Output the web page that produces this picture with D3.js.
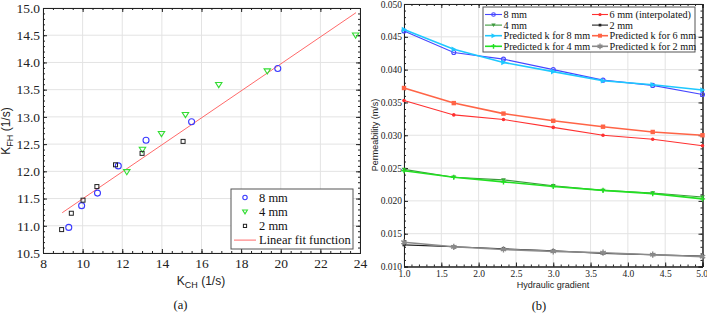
<!DOCTYPE html>
<html>
<head>
<meta charset="utf-8">
<script src="https://cdn.jsdelivr.net/npm/d3@7"></script>
<style>
  body { margin: 0; background: #fff; }
  svg { display: block; }
  .lab { font-family: "Liberation Sans", sans-serif; fill: #222; }
  .leg { font-family: "Liberation Serif", serif; fill: #111; }
</style>
</head>
<body>
<div id="chart"></div>
<script>
// ---- panel (a) data: K_CH vs K_FH ----
var kch8 = [9.3, 9.95, 10.75, 11.8, 13.2, 15.5, 19.85];
var kfh8 = [10.97, 11.37, 11.6, 12.1, 12.57, 12.91, 13.89];
var kch4 = [12.23, 13.02, 13.98, 15.19, 16.87, 19.32, 23.78];
var kfh4 = [11.99, 12.4, 12.69, 13.04, 13.59, 13.84, 14.5];
var kch2 = [8.94, 9.43, 10.02, 10.72, 11.66, 13.0, 15.07];
var kfh2 = [10.93, 11.23, 11.47, 11.72, 12.12, 12.33, 12.55];
var fitSlope = 0.2478, fitIntercept = 9.017, fitRange = [8.97, 23.8];
var xTicksA = [8, 10, 12, 14, 16, 18, 20, 22, 24];
var yTicksA = [10.5, 11.0, 11.5, 12.0, 12.5, 13.0, 13.5, 14.0, 14.5, 15.0];

// ---- panel (b) data: permeability vs hydraulic gradient ----
var gradient = [1, 1.667, 2.333, 3, 3.667, 4.333, 5];
var k8 = [0.0459, 0.0426, 0.0416, 0.0400, 0.0384, 0.0376, 0.0362];
var k4 = [0.0248, 0.0236, 0.0232, 0.0223, 0.0216, 0.0212, 0.0206];
var pred8 = [0.0461, 0.0431, 0.0411, 0.0397, 0.0383, 0.0377, 0.0369];
var pred4 = [0.0246, 0.0236, 0.0229, 0.0222, 0.0216, 0.0211, 0.0203];
var k6 = [0.0353, 0.0331, 0.0324, 0.0312, 0.0300, 0.0294, 0.0284];
var k2 = [0.0133, 0.0130, 0.0127, 0.0124, 0.0120, 0.0118, 0.0116];
var pred6 = [0.0372, 0.0349, 0.0333, 0.0322, 0.0313, 0.0305, 0.0300];
var pred2 = [0.0137, 0.0130, 0.0126, 0.0123, 0.0121, 0.0118, 0.0115];
var xTicksB = [1.0, 1.5, 2.0, 2.5, 3.0, 3.5, 4.0, 4.5, 5.0];
var yTicksB = [0.010, 0.015, 0.020, 0.025, 0.030, 0.035, 0.040, 0.045, 0.050];

var svg = d3.select("#chart").append("svg").attr("width", 707).attr("height", 313);

// draw a marker of a given kind at (cx, cy)
function marker(g, kind, cx, cy, color, s) {
  if (kind == "circle") {
    g.append("circle").attr("cx", cx).attr("cy", cy).attr("r", s)
      .attr("fill", "none").attr("stroke", color).attr("stroke-width", 1.1);
  } else if (kind == "dot") {
    g.append("circle").attr("cx", cx).attr("cy", cy).attr("r", s).attr("fill", color);
  } else if (kind == "tri") {
    g.append("path").attr("d", "M" + (cx - s) + "," + (cy - s * 0.7) + "L" + (cx + s) + "," + (cy - s * 0.7) + "L" + cx + "," + (cy + s * 0.9) + "Z")
      .attr("fill", "none").attr("stroke", color).attr("stroke-width", 1.1);
  } else if (kind == "trifill") {
    g.append("path").attr("d", "M" + (cx - s) + "," + (cy - s * 0.7) + "L" + (cx + s) + "," + (cy - s * 0.7) + "L" + cx + "," + (cy + s * 0.9) + "Z")
      .attr("fill", color);
  } else if (kind == "triright") {
    g.append("path").attr("d", "M" + (cx - s * 0.8) + "," + (cy - s) + "L" + (cx + s) + "," + cy + "L" + (cx - s * 0.8) + "," + (cy + s) + "Z")
      .attr("fill", color);
  } else if (kind == "square") {
    g.append("rect").attr("x", cx - s).attr("y", cy - s).attr("width", 2 * s).attr("height", 2 * s)
      .attr("fill", "none").attr("stroke", color).attr("stroke-width", 1);
  } else if (kind == "sqfill") {
    g.append("rect").attr("x", cx - s).attr("y", cy - s).attr("width", 2 * s).attr("height", 2 * s).attr("fill", color);
  } else if (kind == "plus") {
    g.append("path").attr("d", "M" + (cx - s) + "," + cy + "H" + (cx + s) + "M" + cx + "," + (cy - s) + "V" + (cy + s))
      .attr("stroke", color).attr("stroke-width", 1.4);
  } else if (kind == "star") {
    g.append("path").attr("d", d3.symbol(d3.symbolAsterisk, s * s * 4)())
      .attr("transform", "translate(" + cx + "," + cy + ")")
      .attr("stroke", color).attr("stroke-width", 1.4).attr("fill", "none");
    g.append("circle").attr("cx", cx).attr("cy", cy).attr("r", s * 0.6).attr("fill", color);
  }
}

function minors(a, b, step) {
  var out = [];
  for (var v = a; v <= b + 1e-9; v += step) out.push(+v.toFixed(6));
  return out;
}

// box with grid, inward ticks on all four sides
function frame(x, y, xt, yt, xMinor, yMinor, fs, fmtX, fmtY, lx, ly) {
  var g = svg.append("g");
  var x0 = x.range()[0], x1 = x.range()[1], y0 = y.range()[0], y1 = y.range()[1];
  g.selectAll(".gx").data(xt).enter().append("line")
    .attr("x1", d => x(d)).attr("x2", d => x(d)).attr("y1", y0).attr("y2", y1)
    .attr("stroke", "#e3e3e3").attr("stroke-width", 1);
  g.selectAll(".gy").data(yt).enter().append("line")
    .attr("y1", d => y(d)).attr("y2", d => y(d)).attr("x1", x0).attr("x2", x1)
    .attr("stroke", "#e3e3e3").attr("stroke-width", 1);

  // minor ticks first
  g.append("g").attr("transform", "translate(0," + y0 + ")").call(d3.axisBottom(x).tickValues(xMinor).tickSize(-2).tickFormat(""));
  g.append("g").attr("transform", "translate(0," + y1 + ")").call(d3.axisTop(x).tickValues(xMinor).tickSize(-2).tickFormat(""));
  g.append("g").attr("transform", "translate(" + x0 + ",0)").call(d3.axisLeft(y).tickValues(yMinor).tickSize(-2).tickFormat(""));
  g.append("g").attr("transform", "translate(" + x1 + ",0)").call(d3.axisRight(y).tickValues(yMinor).tickSize(-2).tickFormat(""));
  // major ticks with labels
  g.append("g").attr("transform", "translate(0," + y0 + ")")
    .call(d3.axisBottom(x).tickValues(xt).tickSize(-4).tickPadding(lx).tickFormat(fmtX));
  g.append("g").attr("transform", "translate(0," + y1 + ")")
    .call(d3.axisTop(x).tickValues(xt).tickSize(-4).tickFormat(""));
  g.append("g").attr("transform", "translate(" + x0 + ",0)")
    .call(d3.axisLeft(y).tickValues(yt).tickSize(-4).tickPadding(ly).tickFormat(fmtY));
  g.append("g").attr("transform", "translate(" + x1 + ",0)")
    .call(d3.axisRight(y).tickValues(yt).tickSize(-4).tickFormat(""));
  g.selectAll(".domain").attr("stroke", "#222");
  g.selectAll(".tick line").attr("stroke", "#222");
  g.selectAll(".tick text")
    .attr("font-family", "Liberation Serif, serif")
    .attr("fill", "#222")
    .style("font-size", fs + "px");
  return g;
}

// ================= panel (a) =================
var xa = d3.scaleLinear().domain([8, 24]).range([43, 360]);
var ya = d3.scaleLinear().domain([10.5, 15]).range([253, 8]);
frame(xa, ya, xTicksA, yTicksA, minors(8, 24, 0.5), minors(10.5, 15, 0.1), 13.5,
  d3.format("d"), d3.format(".1f"), 5, 3);

var ga = svg.append("g");
ga.append("line")
  .attr("x1", xa(fitRange[0])).attr("y1", ya(fitIntercept + fitSlope * fitRange[0]))
  .attr("x2", xa(fitRange[1])).attr("y2", ya(fitIntercept + fitSlope * fitRange[1]))
  .attr("stroke", "#ff6a6a").attr("stroke-width", 1);
kch8.forEach(function (d, i) { marker(ga, "circle", xa(d), ya(kfh8[i]), "#3a3aff", 3); });
kch4.forEach(function (d, i) { marker(ga, "tri", xa(d), ya(kfh4[i]), "#33dd33", 3.2); });
kch2.forEach(function (d, i) { marker(ga, "square", xa(d), ya(kfh2[i]), "#222", 2); });

// legend (a)
var la = svg.append("g");
la.append("rect").attr("x", 231).attr("y", 189).attr("width", 122).attr("height", 60)
  .attr("fill", "#fff").attr("stroke", "#555").attr("stroke-width", 1);
var legA = [
  { name: "8 mm", kind: "circle", color: "#3a3aff", s: 2.2 },
  { name: "4 mm", kind: "tri", color: "#33dd33", s: 2.4 },
  { name: "2 mm", kind: "square", color: "#222", s: 1.6 },
  { name: "Linear fit function", kind: "line", color: "#ff6a6a" }
];
legA.forEach(function (d, i) {
  var yy = 197.5 + i * 14.2;
  if (d.kind == "line") {
    la.append("line").attr("x1", 234).attr("x2", 256).attr("y1", yy).attr("y2", yy)
      .attr("stroke", d.color).attr("stroke-width", 1);
  } else {
    marker(la, d.kind, 245, yy, d.color, d.s);
  }
  la.append("text").attr("class", "leg").attr("x", 259).attr("y", yy + 4.3)
    .style("font-size", "12.5px").text(d.name);
});

// axis labels (a)
var xl = svg.append("text").attr("class", "lab").attr("x", 201).attr("y", 285)
  .attr("text-anchor", "middle").style("font-size", "12px");
xl.append("tspan").text("K");
xl.append("tspan").attr("dy", 3).style("font-size", "9px").text("CH");
xl.append("tspan").attr("dy", -3).text(" (1/s)");
var yl = svg.append("text").attr("class", "lab")
  .attr("transform", "translate(10,131) rotate(-90)")
  .attr("text-anchor", "middle").style("font-size", "12px");
yl.append("tspan").text("K");
yl.append("tspan").attr("dy", 3).style("font-size", "9px").text("FH");
yl.append("tspan").attr("dy", -3).text(" (1/s)");
svg.append("text").attr("class", "leg").attr("x", 180.5).attr("y", 309)
  .attr("text-anchor", "middle").style("font-size", "12.5px").text("(a)");

// ================= panel (b) =================
var xb = d3.scaleLinear().domain([1, 5]).range([404, 702.5]);
var yb = d3.scaleLinear().domain([0.010, 0.050]).range([266.5, 4]);
var fb = frame(xb, yb, xTicksB, yTicksB, minors(1, 5, 0.1), minors(0.010, 0.050, 0.001), 9.5,
  d3.format(".1f"), d3.format(".3f"), 4, 2);
// keep the last x label inside the page
fb.selectAll(".tick text").filter(function (d) { return d === 5; }).attr("text-anchor", "end").attr("dx", 5);

var seriesB = [
  { name: "8 mm", vals: k8, color: "#4646ff", kind: "circle", s: 2, w: 1.1 },
  { name: "4 mm", vals: k4, color: "#3c9a3c", kind: "trifill", s: 2.4, w: 1.1 },
  { name: "Predicted k for 8 mm", vals: pred8, color: "#1ec8ff", kind: "triright", s: 2.8, w: 1.6 },
  { name: "Predicted k for 4 mm", vals: pred4, color: "#22e022", kind: "plus", s: 2.6, w: 1.6 },
  { name: "6 mm (interpolated)", vals: k6, color: "#ff3030", kind: "dot", s: 1.8, w: 1.1 },
  { name: "2 mm", vals: k2, color: "#222", kind: "sqfill", s: 1.5, w: 1.1 },
  { name: "Predicted k for 6 mm", vals: pred6, color: "#ff6446", kind: "sqfill", s: 2.2, w: 1.6 },
  { name: "Predicted k for 2 mm", vals: pred2, color: "#8a8a8a", kind: "star", s: 2.6, w: 1.6 }
];
var drawOrder = [5, 7, 1, 3, 4, 6, 0, 2];
var line = d3.line().x(function (d, i) { return xb(gradient[i]); }).y(function (d) { return yb(d); });
var gb = svg.append("g");
drawOrder.forEach(function (j) {
  var s = seriesB[j];
  gb.append("path").datum(s.vals).attr("d", line)
    .attr("fill", "none").attr("stroke", s.color).attr("stroke-width", s.w);
  s.vals.forEach(function (v, i) { marker(gb, s.kind, xb(gradient[i]), yb(v), s.color, s.s); });
});

// legend (b), two columns
var lb = svg.append("g");
lb.append("rect").attr("x", 483).attr("y", 7).attr("width", 212).attr("height", 45)
  .attr("fill", "#fff").attr("stroke", "#555").attr("stroke-width", 1);
seriesB.forEach(function (s, i) {
  var col = Math.floor(i / 4), row = i % 4;
  var lx0 = col == 0 ? 485 : 592, lx1 = col == 0 ? 502 : 608;
  var yy = 14.5 + row * 10.6;
  lb.append("line").attr("x1", lx0).attr("x2", lx1).attr("y1", yy).attr("y2", yy)
    .attr("stroke", s.color).attr("stroke-width", s.w);
  marker(lb, s.kind, (lx0 + lx1) / 2, yy, s.color, s.s * 0.9);
  lb.append("text").attr("class", "leg").attr("x", lx1 + 1.5).attr("y", yy + 3.5)
    .style("font-size", "10.2px").text(s.name);
});

// axis labels (b)
svg.append("text").attr("class", "lab").attr("x", 553).attr("y", 288)
  .attr("text-anchor", "middle").style("font-size", "9px").text("Hydraulic gradient");
svg.append("text").attr("class", "lab")
  .attr("transform", "translate(378,135) rotate(-90)")
  .attr("text-anchor", "middle").style("font-size", "9px").text("Permeability (m/s)");
svg.append("text").attr("class", "leg").attr("x", 539).attr("y", 310)
  .attr("text-anchor", "middle").style("font-size", "12.5px").text("(b)");
</script>
</body>
</html>
